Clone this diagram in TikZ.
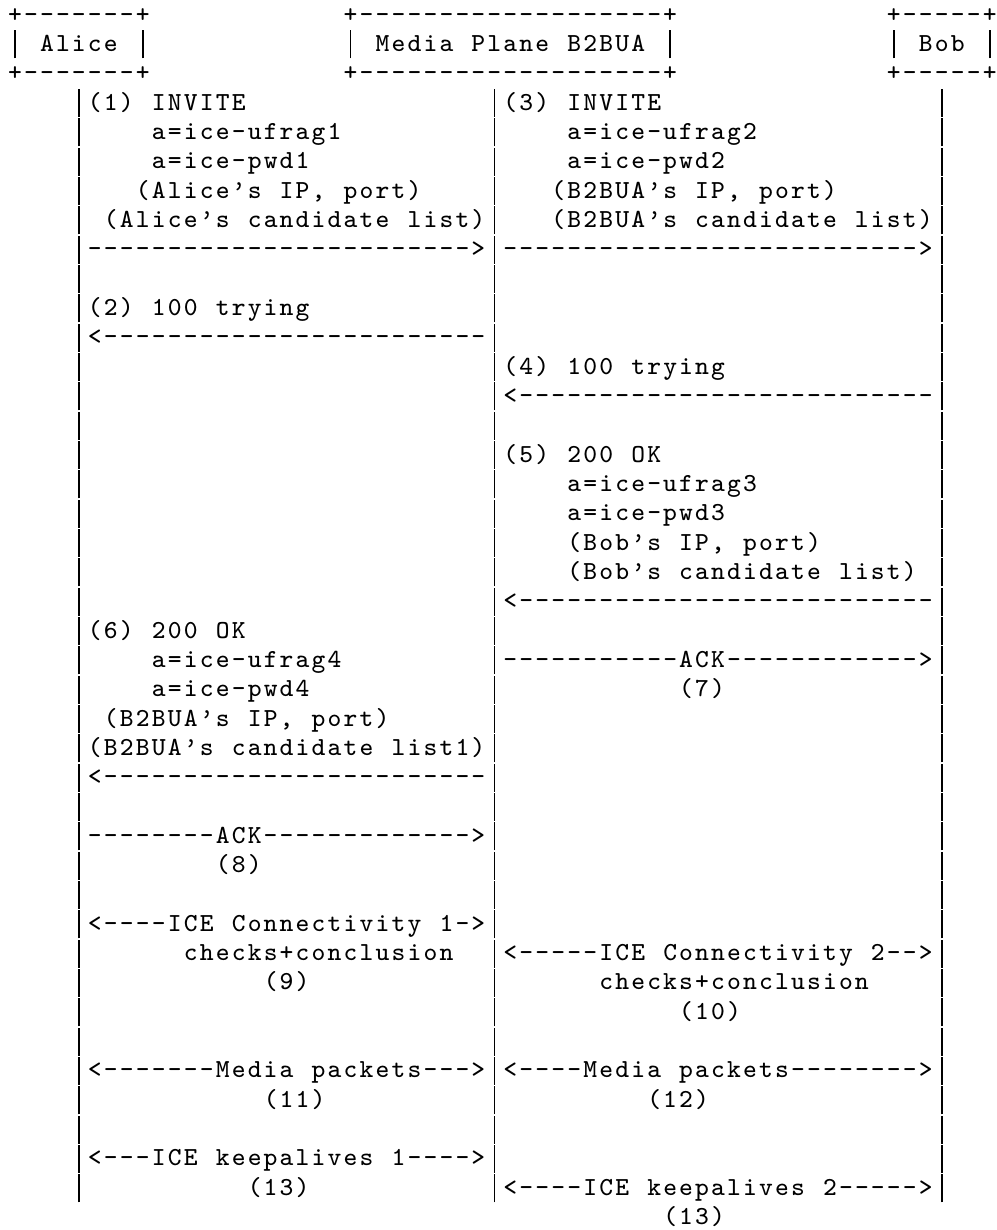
\documentclass[tikz,border=0pt]{standalone}
\newlength\cellw
\setlength\cellw{4.794pt}
\newcommand\vbar{\makebox[\cellw][c]{\rule[-2.1pt]{0.45pt}{8.4pt}}}
\ExplSyntaxOn
\newcommand\dashrun[1]{\prg_replicate:nn{#1}{-}}
% one character per cell, as on the printed page
\NewDocumentCommand\ascii{m}
  {
    \exp_args:Ne \str_map_inline:nn {#1}
      {
        \str_if_eq:nnTF {##1} {|}
          { \vbar }
          { \makebox[\cellw][c]{##1} }
      }
  }
\ExplSyntaxOff
\begin{document}
\begin{tikzpicture}[
  x=4.794pt, y=-8.799pt,
  txt/.style={anchor=base west, inner sep=0pt, outer sep=0pt, yshift=-2.25pt,
              font=\ttfamily\fontsize{7.8}{8}\selectfont}]
\useasboundingbox (-0.438,-0.498) rectangle (61.95,41.44);
% the three parties
\node[txt] (alicetop) at (0,0) {\ascii{+\dashrun{7}+}};
\node[txt] (alice)    at (0,1) {\ascii{| Alice |}};
\node[txt] (alicebot) at (0,2) {\ascii{+\dashrun{7}+}};
\node[txt] (b2btop)   at (21,0) {\ascii{+\dashrun{19}+}};
\node[txt] (b2b)      at (21,1) {\ascii{| Media Plane B2BUA |}};
\node[txt] (b2bbot)   at (21,2) {\ascii{+\dashrun{19}+}};
\node[txt] (bobtop)   at (55,0) {\ascii{+\dashrun{5}+}};
\node[txt] (bob)      at (55,1) {\ascii{| Bob |}};
\node[txt] (bobbot)   at (55,2) {\ascii{+\dashrun{5}+}};
% lifelines
\foreach \r in {3,...,40}
  \foreach \c in {4,30,58}
    \node[txt] (life\c-\r) at (\c,\r) {\vbar};
% (1) and (3)
\node[txt] (inv1)   at (5,3) {\ascii{(1) INVITE}};
\node[txt] (ufrag1) at (9,4) {\ascii{a=ice-ufrag1}};
\node[txt] (pwd1)   at (9,5) {\ascii{a=ice-pwd1}};
\node[txt] (ip1)    at (8,6) {\ascii{(Alice’s IP, port)}};
\node[txt] (cand1)  at (6,7) {\ascii{(Alice’s candidate list)}};
\node[txt] (arr1)   at (5,8) {\ascii{\dashrun{24}>}};
\node[txt] (inv3)   at (31,3) {\ascii{(3) INVITE}};
\node[txt] (ufrag2) at (35,4) {\ascii{a=ice-ufrag2}};
\node[txt] (pwd2)   at (35,5) {\ascii{a=ice-pwd2}};
\node[txt] (ip2)    at (34,6) {\ascii{(B2BUA’s IP, port)}};
\node[txt] (cand2)  at (34,7) {\ascii{(B2BUA’s candidate list)}};
\node[txt] (arr3)   at (31,8) {\ascii{\dashrun{26}>}};
% (2) and (4)
\node[txt] (try2)   at (5,10) {\ascii{(2) 100 trying}};
\node[txt] (arr2)   at (5,11) {\ascii{<\dashrun{24}}};
\node[txt] (try4)   at (31,12) {\ascii{(4) 100 trying}};
\node[txt] (arr4)   at (31,13) {\ascii{<\dashrun{26}}};
% (5)
\node[txt] (ok5)    at (31,15) {\ascii{(5) 200 OK}};
\node[txt] (ufrag3) at (35,16) {\ascii{a=ice-ufrag3}};
\node[txt] (pwd3)   at (35,17) {\ascii{a=ice-pwd3}};
\node[txt] (ip3)    at (35,18) {\ascii{(Bob’s IP, port)}};
\node[txt] (cand3)  at (35,19) {\ascii{(Bob’s candidate list)}};
\node[txt] (arr5)   at (31,20) {\ascii{<\dashrun{26}}};
% (6) and (7)
\node[txt] (ok6)    at (5,21) {\ascii{(6) 200 OK}};
\node[txt] (ufrag4) at (9,22) {\ascii{a=ice-ufrag4}};
\node[txt] (pwd4)   at (9,23) {\ascii{a=ice-pwd4}};
\node[txt] (ip4)    at (6,24) {\ascii{(B2BUA’s IP, port)}};
\node[txt] (cand4)  at (5,25) {\ascii{(B2BUA’s candidate list1)}};
\node[txt] (arr6)   at (5,26) {\ascii{<\dashrun{24}}};
\node[txt] (ack7)   at (31,22) {\ascii{\dashrun{11}ACK\dashrun{12}>}};
\node[txt] (num7)   at (42,23) {\ascii{(7)}};
% (8)
\node[txt] (ack8)   at (5,28) {\ascii{\dashrun{8}ACK\dashrun{13}>}};
\node[txt] (num8)   at (13,29) {\ascii{(8)}};
% ICE checks (9), (10)
\node[txt] (ice1)   at (5,31) {\ascii{<\dashrun{4}ICE Connectivity 1->}};
\node[txt] (chk1)   at (11,32) {\ascii{checks+conclusion}};
\node[txt] (num9)   at (16,33) {\ascii{(9)}};
\node[txt] (ice2)   at (31,32) {\ascii{<\dashrun{5}ICE Connectivity 2-->}};
\node[txt] (chk2)   at (37,33) {\ascii{checks+conclusion}};
\node[txt] (num10)  at (42,34) {\ascii{(10)}};
% media (11), (12)
\node[txt] (med1)   at (5,36) {\ascii{<\dashrun{7}Media packets\dashrun{3}>}};
\node[txt] (num11)  at (16,37) {\ascii{(11)}};
\node[txt] (med2)   at (31,36) {\ascii{<\dashrun{4}Media packets\dashrun{8}>}};
\node[txt] (num12)  at (40,37) {\ascii{(12)}};
% keepalives (13)
\node[txt] (keep1)  at (5,39) {\ascii{<\dashrun{3}ICE keepalives 1\dashrun{4}>}};
\node[txt] (num13a) at (15,40) {\ascii{(13)}};
\node[txt] (keep2)  at (31,40) {\ascii{<\dashrun{4}ICE keepalives 2\dashrun{5}>}};
\node[txt] (num13b) at (41,41) {\ascii{(13)}};
\end{tikzpicture}
\end{document}
